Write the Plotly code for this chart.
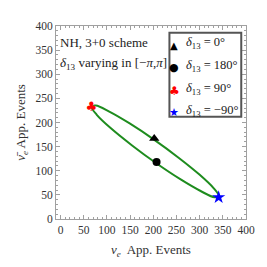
import plotly.graph_objects as go

# Ellipse traced by delta_13 in [-pi, pi]
ellipse_x = [201.5, 149, 105, 76, 66.5, 78, 108.5, 153.5, 206.5, 259, 303, 332, 341.5, 330, 299.5, 254.5, 201.5]
ellipse_y = [164.5, 198, 222.5, 235, 232.5, 216, 188, 153, 115.5, 82, 57.5, 45, 47.5, 64, 92, 127, 164.5]

# Special CP phases
pt_labels = ["0°", "180°", "90°", "−90°"]
pt_x = [202, 207, 66, 341]
pt_y = [167, 118, 231, 45]

x_ticks = [0, 50, 100, 150, 200, 250, 300, 350, 400]
y_ticks = [0, 50, 100, 150, 200, 250, 300, 350, 400]

SERIF = "Liberation Serif"
FRAME = "#a0a0a0"

fig = go.Figure()
fig.add_trace(go.Scatter(x=ellipse_x, y=ellipse_y, mode="lines",
                         line=dict(color="#1e8c1e", width=2, shape="spline", smoothing=1.0),
                         showlegend=False, hoverinfo="skip"))
fig.add_trace(go.Scatter(x=[pt_x[0]], y=[pt_y[0]], mode="markers",
                         marker=dict(symbol="triangle-up", size=9, color="black"), showlegend=False))
fig.add_trace(go.Scatter(x=[pt_x[1]], y=[pt_y[1]], mode="markers",
                         marker=dict(symbol="circle", size=8, color="black"), showlegend=False))
fig.add_trace(go.Scatter(x=[pt_x[2]], y=[pt_y[2]], mode="text", text=["♣"],
                         textfont=dict(family="DejaVu Sans", size=13, color="red"), showlegend=False))
fig.add_trace(go.Scatter(x=[pt_x[3]], y=[pt_y[3]], mode="markers",
                         marker=dict(symbol="star", size=10, color="blue"), showlegend=False))

axis_common = dict(
    showline=True, linecolor=FRAME, linewidth=1, mirror="allticks",
    ticks="inside", ticklen=4, tickcolor=FRAME, tickwidth=1,
    showgrid=False, zeroline=False,
    tickfont=dict(family=SERIF, size=11.5, color="#333333"),
    minor=dict(ticks="inside", ticklen=2, tickcolor=FRAME, dtick=10),
)

fig.update_xaxes(range=[-10, 400], tickvals=x_ticks, **axis_common,
                 title=dict(text="<i>ν</i><sub><i>e</i></sub>  App. Events",
                            font=dict(family=SERIF, size=13, color="#333333"), standoff=10))
fig.update_yaxes(range=[0, 400], tickvals=y_ticks, **axis_common,
                 title=dict(text="<i>ν̄</i><sub><i>e</i></sub> App. Events",
                            font=dict(family=SERIF, size=13, color="#333333"), standoff=6))

# legend box (drawn manually)
fig.add_shape(type="rect", xref="paper", yref="paper", x0=0.597, x1=0.975, y0=0.53, y1=0.965,
              line=dict(color="#555555", width=2), fillcolor="white", layer="above")

key_glyphs = ["▲", "●", "♣", "★"]
key_colors = ["black", "black", "red", "blue"]
key_sizes = [10, 11, 12, 11]
row_y = [0.90, 0.785, 0.665, 0.55]
for g, c, s, yy, lab in zip(key_glyphs, key_colors, key_sizes, row_y, pt_labels):
    fig.add_annotation(xref="paper", yref="paper", x=0.622, y=yy, text=g, showarrow=False,
                       font=dict(family="DejaVu Sans", size=s, color=c), xanchor="center", yanchor="middle")
    fig.add_annotation(xref="paper", yref="paper", x=0.675, y=yy + 0.01,
                       text="<i>δ</i><sub>13</sub> = " + lab, showarrow=False,
                       font=dict(family=SERIF, size=12.5, color="#222222"), xanchor="left", yanchor="middle")

fig.add_annotation(xref="paper", yref="paper", x=0.01, y=0.915, text="NH, 3+0 scheme",
                   showarrow=False, xanchor="left", yanchor="middle",
                   font=dict(family=SERIF, size=13, color="#222222"))
fig.add_annotation(xref="paper", yref="paper", x=0.01, y=0.805, text="<i>δ</i><sub>13</sub> varying in [−<i>π</i>,<i>π</i>]",
                   showarrow=False, xanchor="left", yanchor="middle",
                   font=dict(family=SERIF, size=13, color="#222222"))

# page body has an 8px margin, so the figure is drawn 8px smaller and margins shifted
fig.update_layout(width=259, height=259, margin=dict(l=44, r=14, t=12, b=47),
                  paper_bgcolor="white", plot_bgcolor="white")

fig.write_html("out.html")
